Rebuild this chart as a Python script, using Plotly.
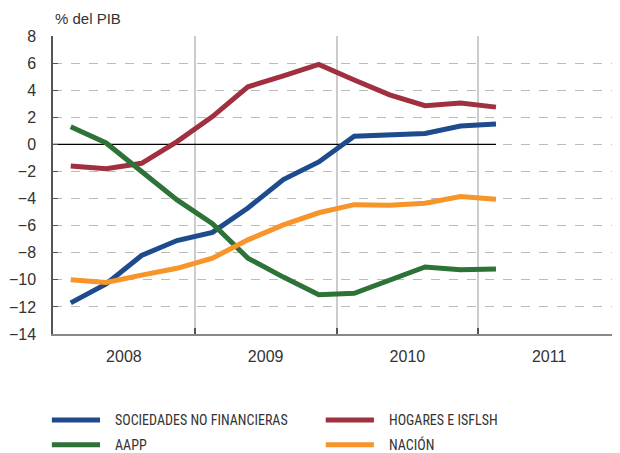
import plotly.graph_objects as go

quarters = [2008.125 + 0.25 * i for i in range(13)]
years = [2008, 2009, 2010, 2011]
year_labels = ["2008", "2009", "2010", "2011"]
boundaries = [2009, 2010, 2011]

sociedades = [-11.7, -10.3, -8.2, -7.1, -6.5, -4.7, -2.6, -1.3, 0.6, 0.7, 0.8, 1.35, 1.5]
hogares = [-1.6, -1.8, -1.4, 0.2, 2.05, 4.25, 5.05, 5.9, 4.75, 3.65, 2.85, 3.05, 2.75]
aapp = [1.3, 0.1, -2.0, -4.1, -5.85, -8.4, -9.8, -11.1, -11.0, -10.0, -9.05, -9.25, -9.2]
nacion = [-10.0, -10.2, -9.65, -9.15, -8.4, -7.05, -5.95, -5.05, -4.45, -4.5, -4.35, -3.85, -4.05]

series = [
    ("SOCIEDADES NO FINANCIERAS", sociedades, "#1e4b8e"),
    ("HOGARES E ISFLSH", hogares, "#a0303f"),
    ("AAPP", aapp, "#2d7236"),
    ("NACIÓN", nacion, "#f7942a"),
]

# legend layout (paper coords): columns and rows
legend_cols = [-0.002, 0.481]
legend_rows = [-0.289, -0.372]
swatch_len = 0.085
text_gap = 0.023

fig = go.Figure()
for name, vals, color in series:
    fig.add_trace(go.Scatter(x=quarters, y=vals, name=name, mode="lines",
                             line=dict(color=color, width=5), showlegend=False))

fig.add_shape(type="line", xref="x", yref="y", x0=years[0], x1=quarters[-1], y0=0, y1=0,
              line=dict(color="black", width=1.2), layer="between")

annotations = [dict(text="% del PIB", xref="paper", yref="paper", x=0.0, y=1.0,
                    xanchor="left", yanchor="bottom", yshift=7, showarrow=False,
                    font=dict(size=15, color="#333333"))]

for i, (name, vals, color) in enumerate(series):
    cx = legend_cols[i % 2]
    ry = legend_rows[i // 2]
    fig.add_shape(type="line", xref="paper", yref="paper", x0=cx, x1=cx + swatch_len,
                  y0=ry, y1=ry, line=dict(color=color, width=5))
    annotations.append(dict(text=name, xref="paper", yref="paper", x=cx + swatch_len + text_gap, y=ry,
                            xanchor="left", yanchor="middle", showarrow=False,
                            font=dict(family="Liberation Sans Narrow, Arial Narrow, Roboto Condensed, Liberation Sans, sans-serif",
                                      size=14, color="#333333")))

fig.update_layout(
    width=612, height=445,
    margin=dict(l=45, r=0, t=28, b=119, autoexpand=False),
    plot_bgcolor="white", paper_bgcolor="white",
    font=dict(family="Liberation Sans, Arial, sans-serif", color="#333333", size=15),
    showlegend=False,
    xaxis=dict(range=[2008, 2012], tickvals=[y + 0.5 for y in years], ticktext=year_labels,
               tickfont=dict(size=16),
               showgrid=False, zeroline=False, ticks="", ticklabelstandoff=7, automargin=False,
               showline=True, linecolor="#888888", linewidth=1.5,
               minor=dict(tickvals=boundaries, showgrid=True, gridcolor="#cccccc", gridwidth=1.5,
                          ticks="inside", ticklen=6, tickcolor="#555555", tickwidth=1.5)),
    yaxis=dict(range=[-14, 8], tickvals=list(range(-14, 9, 2)), showgrid=True,
               tickfont=dict(size=16),
               gridcolor="#bbbbbb", griddash="dash", gridwidth=1, zeroline=False, automargin=False,
               showline=True, linecolor="#555555", linewidth=1.5,
               ticks="inside", ticklen=5, tickcolor="#555555", ticklabelstandoff=12),
    annotations=annotations,
)

fig.write_html("out.html")
